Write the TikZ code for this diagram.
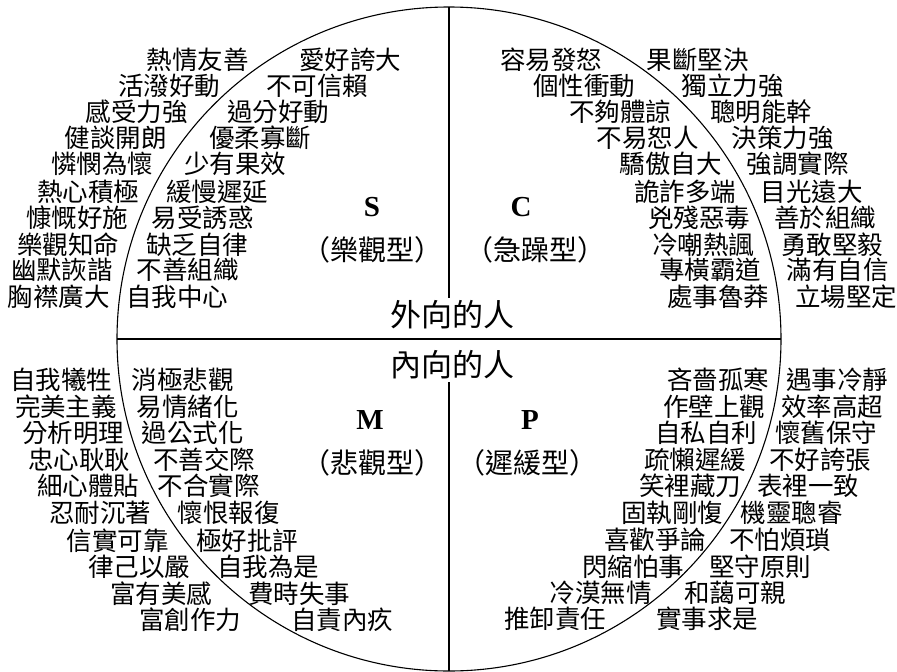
\documentclass[tikz,border=0pt]{standalone}
\usepackage{fontspec}
\setmainfont{Liberation Serif}
\newfontfamily\cjk{Noto Sans CJK TC}
\begin{document}
\begin{tikzpicture}[x=1pt,y=-1pt,
  word/.style={font=\cjk\fontsize{25.5}{25.5}\selectfont, inner sep=0pt},
  title/.style={font=\cjk\fontsize{31}{31}\selectfont, inner sep=0pt},
  kind/.style={font=\cjk\fontsize{28}{28}\selectfont, inner sep=0pt},
  letter/.style={font=\bfseries\fontsize{29}{29}\selectfont, inner sep=0pt},
  rule/.style={line width=1.1pt, black}]
\useasboundingbox (0,0) rectangle (897,672);
% frame
\coordinate (ctr) at (449,339);
\coordinate (ltop) at (449,7);
\coordinate (lmidA) at (449,298);
\coordinate (lmidB) at (449,382);
\coordinate (lbot) at (449,671);
\coordinate (hl) at (117,339);
\coordinate (hr) at (781,339);
\draw[rule] (ctr) circle[radius=332];
\draw[rule] (hl) -- (hr);
\draw[rule] (ltop) -- (lmidA);
\draw[rule] (lmidB) -- (lbot);
% titles
\node[title] (out) at (452,315) {外向的人};
\node[title] (in) at (452,365) {內向的人};
\node[letter] (S) at (372,207) {S};
\node[kind] (Sk) at (372,250) {（樂觀型）};
\node[letter] (C) at (521,207) {C};
\node[kind] (Ck) at (535,250) {（急躁型）};
\node[letter] (M) at (370,420) {M};
\node[kind] (Mk) at (372,463) {（悲觀型）};
\node[letter] (P) at (530,420) {P};
\node[kind] (Pk) at (527,463) {（遲緩型）};
% S outer
\node[word] (s1) at (197.5,60) {熱情友善};
\node[word] (s2) at (169,86) {活潑好動};
\node[word] (s3) at (136.5,112) {感受力強};
\node[word] (s4) at (115.5,138) {健談開朗};
\node[word] (s5) at (102,164) {憐憫為懷};
\node[word] (s6) at (88,192) {熱心積極};
\node[word] (s7) at (77.5,218) {慷慨好施};
\node[word] (s8) at (68,245) {樂觀知命};
\node[word] (s9) at (62,270) {幽默詼諧};
\node[word] (s10) at (59,297) {胸襟廣大};
% S inner
\node[word] (si1) at (350,60) {愛好誇大};
\node[word] (si2) at (317,86) {不可信賴};
\node[word] (si3) at (278,112) {過分好動};
\node[word] (si4) at (260,138) {優柔寡斷};
\node[word] (si5) at (235,164) {少有果效};
\node[word] (si6) at (217,192) {緩慢遲延};
\node[word] (si7) at (202.5,218) {易受誘惑};
\node[word] (si8) at (197,245) {缺乏自律};
\node[word] (si9) at (187.5,270) {不善組織};
\node[word] (si10) at (177,297) {自我中心};
% C inner
\node[word] (ci1) at (551,60) {容易發怒};
\node[word] (ci2) at (584,86) {個性衝動};
\node[word] (ci3) at (620,112) {不夠體諒};
\node[word] (ci4) at (647.5,138) {不易恕人};
\node[word] (ci5) at (670.5,164) {驕傲自大};
\node[word] (ci6) at (685,192) {詭詐多端};
\node[word] (ci7) at (699,218) {兇殘惡毒};
\node[word] (ci8) at (703,245) {冷嘲熱諷};
\node[word] (ci9) at (710,270) {專橫霸道};
\node[word] (ci10) at (718,297) {處事魯莽};
% C outer
\node[word] (c1) at (697.5,60) {果斷堅決};
\node[word] (c2) at (732.5,86) {獨立力強};
\node[word] (c3) at (761,112) {聰明能幹};
\node[word] (c4) at (782.5,138) {決策力強};
\node[word] (c5) at (797.5,164) {強調實際};
\node[word] (c6) at (811.5,192) {目光遠大};
\node[word] (c7) at (825,218) {善於組織};
\node[word] (c8) at (832,245) {勇敢堅毅};
\node[word] (c9) at (837.5,270) {滿有自信};
\node[word] (c10) at (846,297) {立場堅定};
% M outer
\node[word] (m1) at (61,380) {自我犧牲};
\node[word] (m2) at (66,407) {完美主義};
\node[word] (m3) at (73,433) {分析明理};
\node[word] (m4) at (79,460) {忠心耿耿};
\node[word] (m5) at (88,486) {細心體貼};
\node[word] (m6) at (100,513) {忍耐沉著};
\node[word] (m7) at (117.5,541) {信實可靠};
\node[word] (m8) at (139,567) {律己以嚴};
\node[word] (m9) at (161,594) {富有美感};
\node[word] (m10) at (190,620) {富創作力};
% M inner
\node[word] (mi1) at (182.5,380) {消極悲觀};
\node[word] (mi2) at (187.5,407) {易情緒化};
\node[word] (mi3) at (192.5,433) {過公式化};
\node[word] (mi4) at (204,460) {不善交際};
\node[word] (mi5) at (208.5,486) {不合實際};
\node[word] (mi6) at (228.5,513) {懷恨報復};
\node[word] (mi7) at (247,541) {極好批評};
\node[word] (mi8) at (268,567) {自我為是};
\node[word] (mi9) at (299,594) {費時失事};
\node[word] (mi10) at (342,620) {自責內疚};
% P inner
\node[word] (pi1) at (718,380) {吝嗇孤寒};
\node[word] (pi2) at (714,407) {作壁上觀};
\node[word] (pi3) at (706,433) {自私自利};
\node[word] (pi4) at (695,460) {疏懶遲緩};
\node[word] (pi5) at (690,486) {笑裡藏刀};
\node[word] (pi6) at (672,513) {固執剛愎};
\node[word] (pi7) at (655,540) {喜歡爭論};
\node[word] (pi8) at (633,567) {閃縮怕事};
\node[word] (pi9) at (600.5,593) {冷漠無情};
\node[word] (pi10) at (555,619) {推卸責任};
% P outer
\node[word] (p1) at (837,380) {遇事冷靜};
\node[word] (p2) at (832,407) {效率高超};
\node[word] (p3) at (826,433) {懷舊保守};
\node[word] (p4) at (820,460) {不好誇張};
\node[word] (p5) at (808,486) {表裡一致};
\node[word] (p6) at (791.5,513) {機靈聰睿};
\node[word] (p7) at (780,540) {不怕煩瑣};
\node[word] (p8) at (760,567) {堅守原則};
\node[word] (p9) at (735,593) {和藹可親};
\node[word] (p10) at (707,619) {實事求是};
\end{tikzpicture}
\end{document}
